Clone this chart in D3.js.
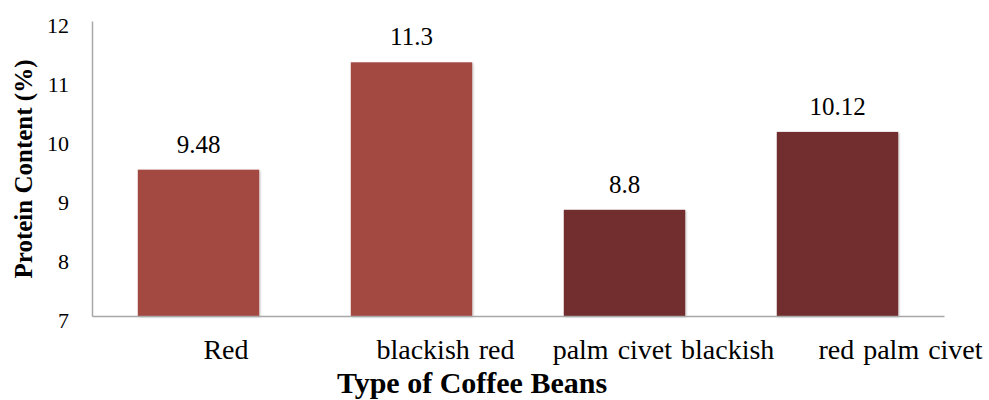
<!DOCTYPE html>
<html>
<head>
<meta charset="utf-8">
<script src="https://cdn.jsdelivr.net/npm/d3@7"></script>
<style>
  html, body { margin: 0; padding: 0; background: #fff; }
  svg { display: block; }
  text { font-family: "Liberation Serif", "Times New Roman", serif; fill: #000; }
</style>
</head>
<body>
<svg id="chart" width="989" height="400"></svg>
<script>
// Protein content by type of coffee bean
const categories = ["Red", "blackish red", "palm civet blackish", "red palm civet"];
const protein = [9.48, 11.3, 8.8, 10.12];
const valueLabels = ["9.48", "11.3", "8.8", "10.12"];
const yTicks = [7, 8, 9, 10, 11, 12];
const barColors = ["#a34a42", "#a34a42", "#722f2d", "#722f2d"];

const xAxisTitle = "Type of Coffee Beans";
const yAxisTitle = "Protein Content (%)";

const serif = "'Liberation Serif', 'Times New Roman', serif";
const svg = d3.select("#chart");
const plot = { left: 92, right: 944, top: 21, bottom: 316 };

const x = d3.scaleBand()
  .domain(categories)
  .range([plot.left, plot.right])
  .paddingInner(0.43)
  .paddingOuter(0.215);

const y = d3.scaleLinear()
  .domain([7, 12])
  .range([plot.bottom, plot.top]);

// soft drop shadow under the bars
const defs = svg.append("defs");
const shadow = defs.append("filter").attr("id", "barShadow")
  .attr("x", "-10%").attr("y", "-10%").attr("width", "120%").attr("height", "120%");
shadow.append("feDropShadow")
  .attr("dx", 1).attr("dy", 1).attr("stdDeviation", 1)
  .attr("flood-color", "#000").attr("flood-opacity", 0.25);

// bars
svg.append("g").selectAll("rect")
  .data(categories)
  .join("rect")
  .attr("x", d => x(d))
  .attr("width", x.bandwidth())
  .attr("y", (d, i) => y(protein[i]))
  .attr("height", (d, i) => y(7) - y(protein[i]))
  .attr("fill", (d, i) => barColors[i])
  .attr("filter", "url(#barShadow)");

// value labels above bars
svg.append("g").selectAll("text")
  .data(categories)
  .join("text")
  .attr("x", d => x(d) + x.bandwidth() / 2)
  .attr("y", (d, i) => y(protein[i]) - 17)
  .attr("text-anchor", "middle")
  .attr("font-family", serif)
  .attr("font-size", 25)
  .text((d, i) => valueLabels[i]);

// y axis
const yAxis = d3.axisLeft(y).tickValues(yTicks).tickSize(0).tickPadding(23).tickFormat(d3.format("d"));
const gy = svg.append("g").attr("transform", `translate(${plot.left},0)`).call(yAxis);
gy.attr("font-family", serif);
gy.select(".domain").attr("stroke", "#a8a8a8").attr("stroke-width", 1.5);
gy.selectAll(".tick text")
  .attr("font-size", 22)
  .attr("font-family", serif)
  .attr("dy", "0.5em");

// x axis line
const xAxis = d3.axisBottom(x).tickSize(0).tickFormat("");
const gx = svg.append("g").attr("transform", `translate(0,${plot.bottom})`).call(xAxis);
gx.select(".domain").attr("stroke", "#a8a8a8").attr("stroke-width", 1.5);

// category labels, nudged right of each bar as typeset
const labelNudge = [27.5, 34, 39, 63];
svg.append("g").selectAll("text")
  .data(categories)
  .join("text")
  .attr("x", (d, i) => x(d) + x.bandwidth() / 2 + labelNudge[i])
  .attr("y", 359)
  .attr("text-anchor", "middle")
  .attr("font-family", serif)
  .attr("font-size", 28)
  .attr("word-spacing", 2)
  .text(d => d);

// axis titles
svg.append("text")
  .attr("x", 472)
  .attr("y", 393)
  .attr("text-anchor", "middle")
  .attr("font-family", serif)
  .attr("font-size", 30)
  .attr("font-weight", "bold")
  .text(xAxisTitle);

svg.append("text")
  .attr("transform", "translate(32,169) rotate(-90)")
  .attr("text-anchor", "middle")
  .attr("font-family", serif)
  .attr("font-size", 25)
  .attr("font-weight", "bold")
  .text(yAxisTitle);
</script>
</body>
</html>
